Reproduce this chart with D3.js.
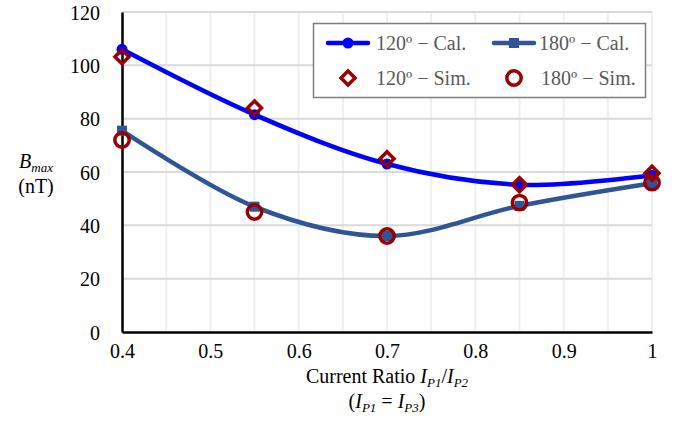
<!doctype html>
<html>
<head>
  <meta charset="utf-8">
</head>
<body>
  <style>
    body {
      margin: 0;
      background: #fff;
      font-family: "Liberation Serif", "Times New Roman", serif;
    }
    svg text {
      font-family: "Liberation Serif", "Times New Roman", serif;
    }
  </style>
  <div id="chart"></div>

<script src="https://cdnjs.cloudflare.com/ajax/libs/d3/7.8.5/d3.min.js"></script>
<script>
  // values
  var ratios = [0.4, 0.55, 0.7, 0.85, 1.0]
  var cal120 = [106, 81.5, 63, 55.2, 58.8]
  var cal180 = [75.5, 47, 36, 47.3, 55.8]
  var sim120 = [103.2, 84, 65, 55.2, 59.5]
  var sim180 = [72, 45, 36, 48.5, 56]

  var xTicks = [0.4, 0.5, 0.6, 0.7, 0.8, 0.9, 1]
  var yTicks = [0, 20, 40, 60, 80, 100, 120]

  var width = 684
  var height = 422
  var margin = { top: 12, left: 122, right: 32, bottom: 90 }

  var blue = '#0000ff'
  var steel = '#2f5597'
  var red = '#990000'

  var svg = d3.select('#chart')
    .append('svg')
    .attr('width', width)
    .attr('height', height)

  var x = d3.scaleLinear()
    .domain([0.4, 1])
    .range([margin.left, width - margin.right])

  var y = d3.scaleLinear()
    .domain([0, 120])
    .range([height - margin.bottom, margin.top])

  var midX = (x(0.4) + x(1)) / 2

  // vertical minor grid every 0.05
  svg.append('g')
    .selectAll('line')
    .data(d3.range(9, 21).map(d => d * 0.05))
    .enter().append('line')
    .attr('x1', d => x(d))
    .attr('x2', d => x(d))
    .attr('y1', y(0))
    .attr('y2', y(120))
    .attr('stroke', '#efefef')
    .attr('stroke-width', 2)

  // horizontal major grid
  svg.append('g')
    .selectAll('line')
    .data(yTicks.filter(d => d > 0))
    .enter().append('line')
    .attr('x1', x(0.4))
    .attr('x2', x(1))
    .attr('y1', d => y(d))
    .attr('y2', d => y(d))
    .attr('stroke', '#d9d9d9')
    .attr('stroke-width', 2)

  // axes
  var xAxis = svg.append('g')
    .attr('transform', `translate(0,${y(0)})`)
    .call(d3.axisBottom(x).tickValues(xTicks).tickSize(0).tickPadding(12).tickFormat(d => d == 1 ? '1' : d3.format('.1f')(d)))

  var yAxis = svg.append('g')
    .attr('transform', `translate(${x(0.4)},0)`)
    .call(d3.axisLeft(y).tickValues(yTicks).tickSize(0).tickPadding(22))

  ;[xAxis, yAxis].forEach(a => {
    a.attr('font-family', null).attr('font-size', 20)
    a.select('.domain').attr('stroke', '#000').attr('stroke-width', 2.5)
    a.selectAll('text').attr('fill', '#000')
  })
  yAxis.selectAll('text').attr('dy', '0.35em')

  // axis titles
  var xt = svg.append('text')
    .attr('x', midX)
    .attr('y', 383)
    .attr('text-anchor', 'middle')
    .attr('font-size', 20)
  xt.append('tspan').text('Current Ratio ')
  xt.append('tspan').attr('font-style', 'italic').text('I')
  xt.append('tspan').attr('font-style', 'italic').attr('font-size', 13).attr('dy', 4).text('P1')
  xt.append('tspan').attr('dy', -4).text('/')
  xt.append('tspan').attr('font-style', 'italic').text('I')
  xt.append('tspan').attr('font-style', 'italic').attr('font-size', 13).attr('dy', 4).text('P2')

  var xt2 = svg.append('text')
    .attr('x', midX)
    .attr('y', 408)
    .attr('text-anchor', 'middle')
    .attr('font-size', 20)
  xt2.append('tspan').text('(')
  xt2.append('tspan').attr('font-style', 'italic').text('I')
  xt2.append('tspan').attr('font-style', 'italic').attr('font-size', 13).attr('dy', 4).text('P1')
  xt2.append('tspan').attr('dy', -4).text(' = ')
  xt2.append('tspan').attr('font-style', 'italic').text('I')
  xt2.append('tspan').attr('font-style', 'italic').attr('font-size', 13).attr('dy', 4).text('P3')
  xt2.append('tspan').attr('dy', -4).text(')')

  var yt = svg.append('text')
    .attr('x', 36)
    .attr('y', 168)
    .attr('text-anchor', 'middle')
    .attr('font-size', 20)
  yt.append('tspan').attr('font-style', 'italic').text('B')
  yt.append('tspan').attr('font-style', 'italic').attr('font-size', 13).attr('dy', 4).text('max')
  svg.append('text')
    .attr('x', 36)
    .attr('y', 193)
    .attr('text-anchor', 'middle')
    .attr('font-size', 20)
    .text('(nT)')

  // calculated series: smooth lines
  var line = d3.line()
    .x(d => x(d[0]))
    .y(d => y(d[1]))
    .curve(d3.curveCardinal.tension(0))

  var plot = svg.append('g')

  plot.append('path')
    .attr('d', line(d3.zip(ratios, cal180)))
    .attr('fill', 'none')
    .attr('stroke', steel)
    .attr('stroke-width', 4.5)

  plot.selectAll('.sq')
    .data(d3.zip(ratios, cal180))
    .enter().append('rect')
    .attr('class', 'sq')
    .attr('x', d => x(d[0]) - 5)
    .attr('y', d => y(d[1]) - 5)
    .attr('width', 10)
    .attr('height', 10)
    .attr('fill', steel)

  plot.append('path')
    .attr('d', line(d3.zip(ratios, cal120)))
    .attr('fill', 'none')
    .attr('stroke', blue)
    .attr('stroke-width', 4.5)

  plot.selectAll('.dot')
    .data(d3.zip(ratios, cal120))
    .enter().append('circle')
    .attr('class', 'dot')
    .attr('cx', d => x(d[0]))
    .attr('cy', d => y(d[1]))
    .attr('r', 5.5)
    .attr('fill', blue)

  // simulated series: hollow markers
  var diamond = d3.symbol().type(d3.symbolDiamond2).size(125)

  plot.selectAll('.dia')
    .data(d3.zip(ratios, sim120))
    .enter().append('path')
    .attr('class', 'dia')
    .attr('d', diamond)
    .attr('transform', d => `translate(${x(d[0])},${y(d[1])})`)
    .attr('fill', 'none')
    .attr('stroke', red)
    .attr('stroke-width', 3.5)

  plot.selectAll('.ring')
    .data(d3.zip(ratios, sim180))
    .enter().append('circle')
    .attr('class', 'ring')
    .attr('cx', d => x(d[0]))
    .attr('cy', d => y(d[1]))
    .attr('r', 7.2)
    .attr('fill', 'none')
    .attr('stroke', red)
    .attr('stroke-width', 3.5)

  // legend
  var legend = svg.append('g')

  legend.append('rect')
    .attr('x', 313.5)
    .attr('y', 23.5)
    .attr('width', 332)
    .attr('height', 74)
    .attr('fill', '#fff')
    .attr('stroke', '#7f7f7f')
    .attr('stroke-width', 1.5)

  var items = [
    { label: '120º − Cal.', kind: 'dot', lx: 328, tx: 376, ly: 43 },
    { label: '180º − Cal.', kind: 'sq', lx: 494, tx: 539, ly: 43 },
    { label: '120º − Sim.', kind: 'dia', lx: 328, tx: 376, ly: 78 },
    { label: '180º − Sim.', kind: 'ring', lx: 494, tx: 541, ly: 78 }
  ]

  items.forEach(d => {
    var g = legend.append('g')
    var cx = d.lx + 20
    if (d.kind == 'dot' || d.kind == 'sq') {
      var c = d.kind == 'dot' ? blue : steel
      g.append('line')
        .attr('x1', d.lx).attr('x2', d.lx + 40)
        .attr('y1', d.ly).attr('y2', d.ly)
        .attr('stroke', c)
        .attr('stroke-width', 4.5)
        .attr('stroke-linecap', 'round')
      if (d.kind == 'dot') {
        g.append('circle').attr('cx', cx).attr('cy', d.ly).attr('r', 5.5).attr('fill', c)
      } else {
        g.append('rect').attr('x', cx - 5).attr('y', d.ly - 5).attr('width', 10).attr('height', 10).attr('fill', c)
      }
    } else if (d.kind == 'dia') {
      g.append('path')
        .attr('d', diamond)
        .attr('transform', `translate(${cx},${d.ly})`)
        .attr('fill', 'none')
        .attr('stroke', red)
        .attr('stroke-width', 3.5)
    } else {
      g.append('circle')
        .attr('cx', cx).attr('cy', d.ly).attr('r', 7.2)
        .attr('fill', 'none')
        .attr('stroke', red)
        .attr('stroke-width', 3.5)
    }
    g.append('text')
      .attr('x', d.tx)
      .attr('y', d.ly)
      .attr('dy', '0.35em')
      .attr('font-size', 20)
      .attr('fill', '#595959')
      .text(d.label)
  })
</script>
</body>
</html>
